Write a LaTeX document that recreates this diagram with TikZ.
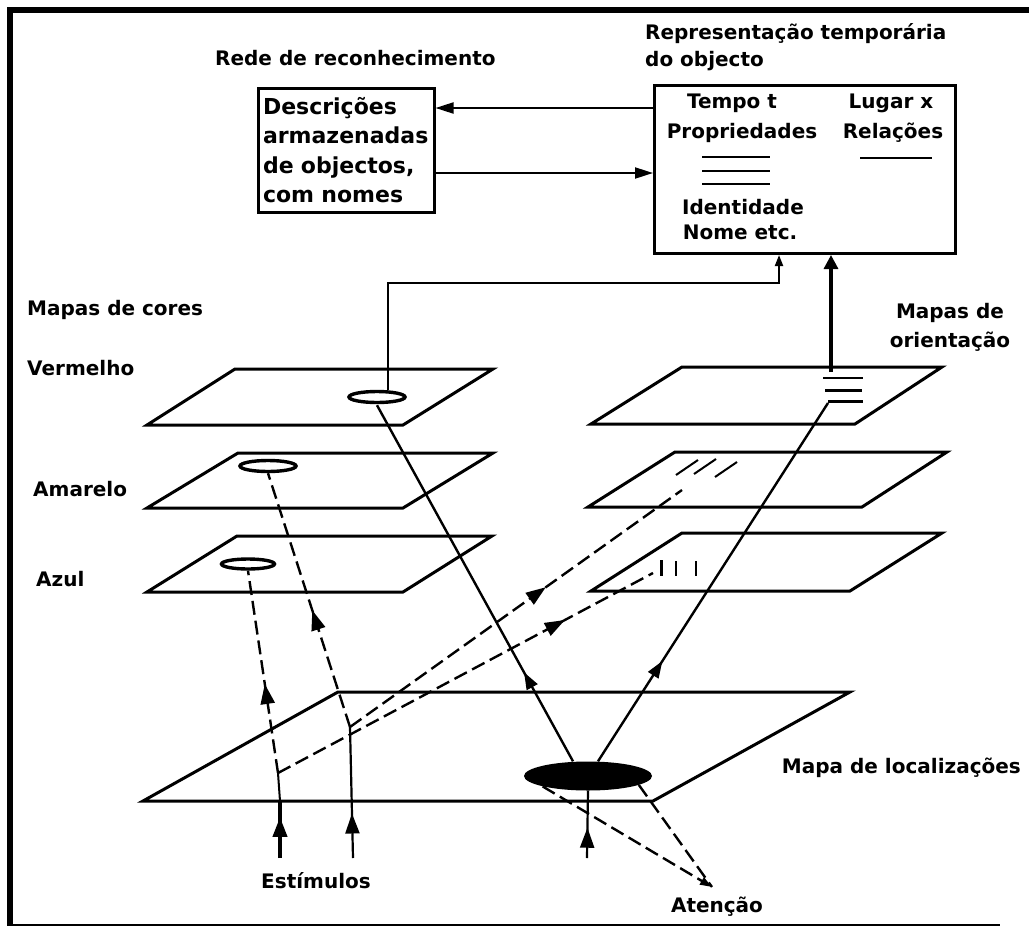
\documentclass[tikz,border=0pt]{standalone}
\usepackage{fontspec}
\setmainfont{DejaVu Sans}
\usetikzlibrary{arrows.meta,decorations.markings,shapes.geometric}
\tikzset{
  plane/.style={line width=3pt, line join=miter, line cap=round},
  conn/.style={line width=2pt},
  diag/.style={line width=2.4pt},
  dsh/.style={line width=2.4pt, dash pattern=on 14pt off 6pt},
  lbl/.style={font=\fontsize{20}{27}\selectfont\bfseries, inner sep=0pt},
  boxtxt/.style={font=\fontsize{20}{24}\selectfont\bfseries, inner sep=0pt},
  spot/.style={ellipse, draw, line width=3.4pt, inner sep=0pt},
  marr/.style={postaction={decorate}, decoration={markings,
      mark=at position #1 with {\arrow{Triangle[length=20pt,width=14pt]}}}},
  sarr/.style={postaction={decorate}, decoration={markings,
      mark=at position #1 with {\arrow{Triangle[length=17pt,width=12pt]}}}},
}
\begin{document}
\begin{tikzpicture}[x=1pt,y=-1pt]
\useasboundingbox (0,0) rectangle (1029,927);
% frame
\draw[line width=6pt] (10,7) -- (10,926);
\draw[line width=6pt] (7,10) -- (1029,10);
\draw[line width=2.5pt] (8,925) -- (1000,925);

% titles
\node[lbl, anchor=base west] (tRede) at (215,65) {Rede de reconhecimento};
\node[lbl, anchor=base west] (tRep1) at (645,39) {Representação temporária};
\node[lbl, anchor=base west] (tRep2) at (645,66) {do objecto};

% recognition box
\node[draw, line width=3pt, minimum width=176pt, minimum height=124pt,
      text width=166pt, inner xsep=5pt, align=left,
      font=\fontsize{22}{29.3}\selectfont\bfseries] (rede) at (346,150)
      {Descrições\\armazenadas\\de objectos,\\com nomes};

% object representation box
\node[draw, line width=3pt, minimum width=301pt, minimum height=168pt] (obj) at (805,169.5) {};
\node[boxtxt, anchor=base] (tTempo) at (732,108) {Tempo t};
\node[boxtxt, anchor=base] (tProp) at (742,138) {Propriedades};
\node[boxtxt, anchor=base] (tLugar) at (891,108) {Lugar x};
\node[boxtxt, anchor=base] (tRel) at (893,138) {Relações};
\node[boxtxt, anchor=base] (tIdent) at (743,214) {Identidade};
\node[boxtxt, anchor=base] (tNome) at (740,239) {Nome etc.};
\draw[line width=2pt] (702,157) -- (770,157);
\draw[line width=2pt] (702,171) -- (770,171);
\draw[line width=2pt] (702,184) -- (770,184);
\draw[line width=2pt] (860,158) -- (932,158);

% connections between boxes
\draw[conn, -{Triangle[length=18pt,width=11pt]}]
  ([yshift=42pt]rede.east -| obj.west) -- ([yshift=42pt]rede.east);
\draw[conn, -{Triangle[length=18pt,width=11pt]}]
  ([yshift=-23pt]rede.east) -- ([yshift=-23pt]rede.east -| obj.west);

% labels
\node[lbl, anchor=base west] (tCores) at (27,315) {Mapas de cores};
\node[lbl, anchor=base west] (tVerm) at (27,375) {Vermelho};
\node[lbl, anchor=base west] (tAmar) at (33,496) {Amarelo};
\node[lbl, anchor=base west] (tAzul) at (36,586) {Azul};
\node[lbl, anchor=base] (tOri1) at (950,318) {Mapas de};
\node[lbl, anchor=base] (tOri2) at (950,347) {orientação};
\node[lbl, anchor=base east] (tLoc) at (1021,773) {Mapa de localizações};
\node[lbl, anchor=base] (tEst) at (316,888) {Estímulos};
\node[lbl, anchor=base] (tAten) at (717,912) {Atenção};

% colour maps
\draw[plane] (147,425) -- (403,425) -- (493,369) -- (235,369) -- cycle;
\draw[plane] (147,508) -- (403,508) -- (493,453) -- (238,453) -- cycle;
\draw[plane] (147,592) -- (403,592) -- (492,536) -- (237,536) -- cycle;
% orientation maps
\draw[plane] (591,424) -- (855,424) -- (942,367) -- (682,367) -- cycle;
\draw[plane] (588,507) -- (862,507) -- (947,452) -- (675,452) -- cycle;
\draw[plane] (591,591) -- (850,591) -- (942,533) -- (682,533) -- cycle;
% location map
\draw[plane] (143,801) -- (653,801) -- (850,692) -- (338,692) -- cycle;

% feature spots
\node[spot, minimum width=56pt, minimum height=11pt] (ellV) at (377,397) {};
\node[spot, minimum width=56pt, minimum height=11pt] (ellA) at (268,466) {};
\node[spot, minimum width=53pt, minimum height=10pt] (ellZ) at (248,564) {};
\node[ellipse, fill, inner sep=0pt, minimum width=128pt, minimum height=29pt] (ellL) at (588,776) {};

% orientation marks
\draw[line width=1.5pt] (823,378) -- (863,378);
\draw[line width=3pt] (825,390) -- (862,390);
\draw[line width=3pt] (828,401) -- (863,401);
\draw[line width=2pt] (676,475) -- (698,460);
\draw[line width=2pt] (694,474) -- (716,459);
\draw[line width=2pt] (715,477) -- (737,462);
\draw[line width=3pt] (661,560) -- (661,576);
\draw[line width=2pt] (676,561) -- (676,576);
\draw[line width=2pt] (696,561) -- (696,576);

% coordinates
\coordinate (vturn) at (779,283);
\coordinate (ortop) at (831,372);
\coordinate (hm) at (828,403);
\coordinate (dm) at (682,490);
\coordinate (vm) at (653,573);
\coordinate (A) at (278,773);
\coordinate (B) at (350,727);
\coordinate (s1) at (280,858);
\coordinate (s1b) at (280,801);
\coordinate (s2) at (353,858);
\coordinate (att) at (712,887);
\coordinate (attsrc) at (587,858);

% links to object representation
\draw[conn, -{Triangle[length=11pt,width=8pt]}]
  ([xshift=11pt]ellV.north) |- (vturn) -- (vturn |- obj.south);
\draw[line width=3.2pt, -{Triangle[length=14pt,width=14pt]}]
  (ortop) -- (ortop |- obj.south);

% stimuli
\draw[line width=4pt, marr=0.72] (s1) -- (s1b);
\draw[line width=2pt] (s1b) -- (A);
\draw[line width=2.2pt, marr=0.34] (s2) -- (B);

% dashed feature paths
\draw[dsh, marr=0.44] (A) -- (ellZ.south);
\draw[dsh, marr=0.765] (A) -- (vm);
\draw[dsh, marr=0.46] (B) -- (ellA.south);
\draw[dsh, marr=0.59] (B) -- (dm);

% attention spotlight paths
\draw[diag, sarr=0.25] ([xshift=-15pt]ellL.north) -- ([yshift=-1pt]ellV.south);
\draw[diag, sarr=0.28] ([xshift=10pt]ellL.north) -- (hm);
\draw[line width=2.2pt, marr=0.45] (attsrc) -- (ellL.south);
\draw[dsh, -{Triangle[length=12pt,width=8pt]}] (ellL.south west) -- (att);
\draw[dsh] (ellL.-10) -- (att);
\end{tikzpicture}
\end{document}
